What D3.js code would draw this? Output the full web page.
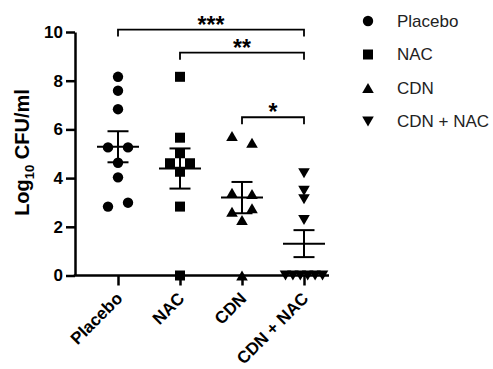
<!DOCTYPE html>
<html>
<head>
<meta charset="utf-8">
<script src="https://cdn.jsdelivr.net/npm/d3@7"></script>
<style>
  body { margin: 0; background: #fff; }
  text { font-family: "Liberation Sans", Arial, sans-serif; }
</style>
</head>
<body>
<div id="chart"></div>
<script>
const categories = ["Placebo", "NAC", "CDN", "CDN + NAC"];
const placeboValues = [8.16, 7.59, 6.83, 5.26, 5.26, 4.63, 4.03, 2.83, 2.99];
const nacValues = [8.16, 5.66, 5.02, 4.61, 4.61, 4.26, 2.83, 0];
const cdnValues = [5.73, 5.45, 3.4, 3.35, 2.62, 2.76, 2.28, 0];
const cdnNacValues = [4.2, 3.48, 3.13, 2.28, 0, 0, 0, 0, 0, 0];
const yTicks = [0, 2, 4, 6, 8, 10];
// significance brackets: from group, to group, stars, level (log10 CFU/ml)
const compFrom = ["Placebo", "NAC", "CDN"];
const compTo = ["CDN + NAC", "CDN + NAC", "CDN + NAC"];
const compLabel = ["***", "**", "*"];
const compLevel = [10.1, 9.15, 6.5];

const groupValues = [placeboValues, nacValues, cdnValues, cdnNacValues];
const shapes = ["circle", "square", "triangle", "triangleDown"];

const width = 493, height = 369;
const axisX = 75, axisRight = 329;

const svg = d3.select("#chart").append("svg")
  .attr("width", width)
  .attr("height", height);

const y = d3.scaleLinear().domain([0, 10]).range([275.5, 32]);
const x = d3.scalePoint().domain(categories).range([118, 304]);

// marker path centred on its bounding box
function markerPath(shape) {
  if (shape === "circle") return "M5.2,0A5.2,5.2 0 1,1 -5.2,0A5.2,5.2 0 1,1 5.2,0Z";
  if (shape === "square") return "M-5,-5H5V5H-5Z";
  if (shape === "triangle") return "M0,-5L5.8,5H-5.8Z";
  return "M0,5L5.8,-5H-5.8Z";
}

// spread points that sit on the same row, GraphPad style
function spread(values) {
  const h = 8;
  const order = d3.range(values.length).sort((a, b) => values[b] - values[a]);
  const rows = [];
  for (const i of order) {
    const row = rows[rows.length - 1];
    if (row && y(values[i]) - y(values[row[0]]) < h) row.push(i);
    else rows.push([i]);
  }
  const offsets = new Array(values.length).fill(0);
  for (const row of rows) {
    row.sort((a, b) => a - b);
    const n = row.length;
    const gap = n > 1 ? Math.min(20, 37 / (n - 1)) : 0;
    row.forEach((idx, k) => offsets[idx] = (k - (n - 1) / 2) * gap);
  }
  return offsets;
}

// y axis
const yAxis = svg.append("g")
  .attr("transform", `translate(${axisX},0)`)
  .call(d3.axisLeft(y).tickValues(yTicks).tickSize(9).tickPadding(3).tickSizeOuter(0));
yAxis.select(".domain").attr("stroke", "#000").attr("stroke-width", 2.5);
yAxis.selectAll(".tick line").attr("stroke", "#000").attr("stroke-width", 2.5);
yAxis.selectAll(".tick text")
  .attr("fill", "#000")
  .style("font-size", "17px")
  .style("font-weight", "bold");

// x axis
const xAxis = svg.append("g")
  .attr("transform", `translate(0,${y(0)})`)
  .call(d3.axisBottom(x).tickSize(10).tickSizeOuter(0));
xAxis.select(".domain").remove();
xAxis.append("line")
  .attr("x1", axisX - 1.25).attr("x2", axisRight)
  .attr("stroke", "#000").attr("stroke-width", 2.5);
xAxis.selectAll(".tick line").attr("stroke", "#000").attr("stroke-width", 2.5);
xAxis.selectAll(".tick text")
  .attr("fill", "#000")
  .attr("x", 5)
  .attr("y", 24)
  .attr("dy", 0)
  .attr("transform", "rotate(-45 5 24)")
  .attr("text-anchor", "end")
  .style("font-size", "17px")
  .style("font-weight", "bold");

// y label
const yLabel = svg.append("text")
  .attr("transform", "translate(29,152.5) rotate(-90)")
  .attr("text-anchor", "middle")
  .attr("fill", "#000")
  .style("font-size", "20px")
  .style("font-weight", "bold");
yLabel.append("tspan").text("Log");
yLabel.append("tspan").attr("dy", 5).style("font-size", "13px").text("10");
yLabel.append("tspan").attr("dy", -5).text(" CFU/ml");

// points, mean and SEM
categories.forEach((cat, gi) => {
  const vals = groupValues[gi];
  const offs = spread(vals);
  const cx = x(cat);
  svg.append("g").selectAll("path")
    .data(vals)
    .join("path")
    .attr("d", markerPath(shapes[gi]))
    .attr("transform", (d, i) => `translate(${cx + offs[i]},${y(d)})`)
    .attr("fill", "#000");

  const mean = d3.mean(vals);
  const sem = d3.deviation(vals) / Math.sqrt(vals.length);
  const g = svg.append("g").attr("stroke", "#000").attr("stroke-width", 2);
  g.append("line").attr("x1", cx - 21).attr("x2", cx + 21).attr("y1", y(mean)).attr("y2", y(mean));
  g.append("line").attr("x1", cx).attr("x2", cx).attr("y1", y(mean + sem)).attr("y2", y(mean - sem));
  g.append("line").attr("x1", cx - 10.5).attr("x2", cx + 10.5).attr("y1", y(mean + sem)).attr("y2", y(mean + sem));
  g.append("line").attr("x1", cx - 10.5).attr("x2", cx + 10.5).attr("y1", y(mean - sem)).attr("y2", y(mean - sem));
});

// significance brackets
compLabel.forEach((lab, i) => {
  const x1 = x(compFrom[i]), x2 = x(compTo[i]), yy = y(compLevel[i]);
  svg.append("path")
    .attr("d", `M${x1},${yy + 7}V${yy}H${x2}V${yy + 7}`)
    .attr("fill", "none")
    .attr("stroke", "#000")
    .attr("stroke-width", 1.8);
  svg.append("text")
    .attr("x", (x1 + x2) / 2)
    .attr("y", yy + 3)
    .attr("text-anchor", "middle")
    .attr("fill", "#000")
    .style("font-size", "23px")
    .style("font-weight", "bold")
    .text(lab);
});

// legend
const legend = svg.append("g")
  .selectAll("g")
  .data(categories)
  .join("g")
  .attr("transform", (d, i) => `translate(368,${21 + i * 33.5})`);
legend.append("path")
  .attr("d", (d, i) => markerPath(shapes[i]))
  .attr("fill", "#000");
legend.append("text")
  .attr("x", 29)
  .attr("dy", "0.35em")
  .attr("fill", "#222")
  .style("font-size", "17px")
  .text(d => d);
</script>
</body>
</html>
